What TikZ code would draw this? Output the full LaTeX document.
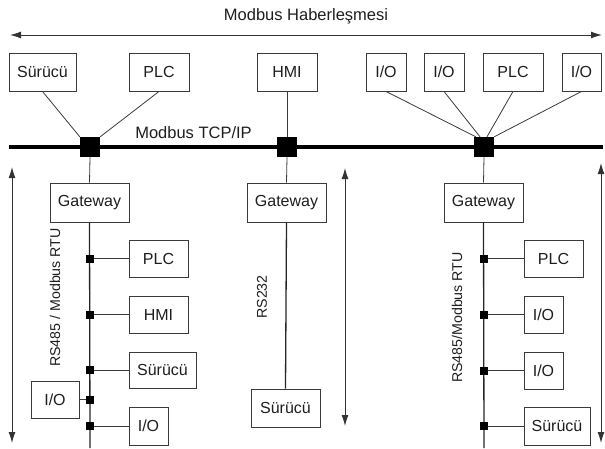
\documentclass[tikz,border=0pt]{standalone}
\usepackage{fontspec}
\setmainfont{Liberation Sans}
\usetikzlibrary{arrows.meta,calc}
\definecolor{ln}{HTML}{3A3A3A}
\definecolor{tx}{HTML}{1E1E1E}
\tikzset{
  box/.style={draw=ln, line width=0.9pt, fill=white, inner sep=0pt, text=tx,
    font=\fontsize{16}{18}\selectfont},
  bigsq/.style={fill=black, draw=none, minimum size=20pt, inner sep=0pt},
  smsq/.style={fill=black, draw=none, minimum size=8pt, inner sep=0pt},
  wire/.style={draw=ln, line width=0.8pt},
  trunk/.style={draw=black!85, line width=1.3pt},
  bus/.style={draw=black, line width=4pt},
  dim/.style={draw=black!80, line width=1pt, {Latex[length=11pt,width=7pt]}-{Latex[length=11pt,width=7pt]}},
  lbl/.style={text=tx, inner sep=0pt},
}
\begin{document}
\begin{tikzpicture}[x=1pt,y=-1pt]
\useasboundingbox (0,0) rectangle (605,448);

% title and top arrow
\node[lbl, font=\fontsize{16.5}{19}\selectfont] (title) at (306,16) {Modbus Haberleşmesi};
\coordinate (tl) at (10,35);
\coordinate (tr) at (602,35);
\draw[dim] (tl) -- (tr);

% top boxes
\node[box, minimum width=67pt, minimum height=38pt] (s1) at (42.5,72) {Sürücü};
\node[box, minimum width=60pt, minimum height=38pt] (p1) at (159,72) {PLC};
\node[box, minimum width=60pt, minimum height=38pt] (hmi) at (287,72) {HMI};
\node[box, minimum width=40pt, minimum height=38pt] (io1) at (386,72) {I/O};
\node[box, minimum width=40pt, minimum height=38pt] (io2) at (444,72) {I/O};
\node[box, minimum width=60pt, minimum height=38pt] (p2) at (513,72) {PLC};
\node[box, minimum width=39pt, minimum height=38pt] (io3) at (581.5,72) {I/O};

% bus
\coordinate (busL) at (9,147);
\coordinate (busR) at (603,147);
\draw[bus] (busL) -- (busR);
\node[lbl, font=\fontsize{16.5}{19}\selectfont] (tcp) at (193.5,133) {Modbus TCP/IP};

\node[bigsq] (b1) at (90,147) {};
\node[bigsq] (b2) at (287,147) {};
\node[bigsq] (b3) at (484,147) {};

\draw[wire] (s1.south) -- (b1.north west);
\draw[wire] (p1.south) -- (b1.north east);
\draw[wire] (hmi.south) -- (b2.north);
\draw[wire] (io1.south) -- ($(b3.north west)+(2,0)$);
\draw[wire] (io2.south) -- ($(b3.north)+(-4,0)$);
\draw[wire] (p2.south) -- ($(b3.north)+(3,0)$);
\draw[wire] (io3.south) -- (b3.north east);

% gateways
\node[box, minimum width=79pt, minimum height=39pt] (g1) at (89.5,202.5) {Gateway};
\node[box, minimum width=79pt, minimum height=39pt] (g2) at (286.5,202.5) {Gateway};
\node[box, minimum width=79pt, minimum height=39pt] (g3) at (483.5,202.5) {Gateway};
\draw[wire] (b1.south) -- (g1.north);
\draw[wire] (b2.south) -- (g2.north);
\draw[wire] (b3.south) -- (g3.north);

% left branch
\coordinate (e1) at (90,448);
\draw[trunk] (g1.south) -- (e1);
\node[box, minimum width=59pt, minimum height=37pt] (lplc) at (158.5,258.5) {PLC};
\node[box, minimum width=59pt, minimum height=37pt] (lhmi) at (158.5,314.5) {HMI};
\node[box, minimum width=67pt, minimum height=36pt] (lsur) at (162.5,370) {Sürücü};
\node[box, minimum width=48pt, minimum height=37pt] (lio1) at (55,399.5) {I/O};
\node[box, minimum width=39pt, minimum height=38pt] (lio2) at (148.5,426) {I/O};
\node[smsq] (q1) at (90,258.5) {};
\node[smsq] (q2) at (90,314.5) {};
\node[smsq] (q3) at (90,370) {};
\node[smsq] (q4) at (90,399.5) {};
\node[smsq] (q5) at (90,426) {};
\draw[wire] (q1.east) -- (lplc.west);
\draw[wire] (q2.east) -- (lhmi.west);
\draw[wire] (q3.east) -- (lsur.west);
\draw[wire] (q4.west) -- (lio1.east);
\draw[wire] (q5.east) -- (lio2.west);
\node[lbl, rotate=90, font=\fontsize{14.2}{16}\selectfont] (l1) at (55,297.5) {RS485 / Modbus RTU};
\coordinate (a1t) at (12,167);
\coordinate (a1b) at (12,443);
\draw[dim] (a1t) -- (a1b);

% middle branch
\node[box, minimum width=69pt, minimum height=38pt] (msur) at (285.5,408) {Sürücü};
\draw[trunk] (g2.south) -- (msur.north);
\node[lbl, rotate=90, font=\fontsize{14.2}{16}\selectfont] (l2) at (262,297) {RS232};
\coordinate (a2t) at (345,168);
\coordinate (a2b) at (345,426);
\draw[dim] (a2t) -- (a2b);

% right branch
\coordinate (e3) at (484,448);
\draw[trunk] (g3.south) -- (e3);
\node[box, minimum width=59pt, minimum height=37pt] (rplc) at (553.5,258.5) {PLC};
\node[box, minimum width=39pt, minimum height=37pt] (rio1) at (543.5,314.5) {I/O};
\node[box, minimum width=39pt, minimum height=37pt] (rio2) at (543.5,370.5) {I/O};
\node[box, minimum width=66pt, minimum height=38pt] (rsur) at (557,426) {Sürücü};
\node[smsq] (r1) at (484,258.5) {};
\node[smsq] (r2) at (484,314.5) {};
\node[smsq] (r3) at (484,370.5) {};
\node[smsq] (r4) at (484,426) {};
\draw[wire] (r1.east) -- (rplc.west);
\draw[wire] (r2.east) -- (rio1.west);
\draw[wire] (r3.east) -- (rio2.west);
\draw[wire] (r4.east) -- (rsur.west);
\node[lbl, rotate=90, font=\fontsize{14.2}{16}\selectfont] (l3) at (457,317.5) {RS485/Modbus RTU};
\coordinate (a3t) at (601,163);
\coordinate (a3b) at (601,443);
\draw[dim] (a3t) -- (a3b);
\end{tikzpicture}
\end{document}
